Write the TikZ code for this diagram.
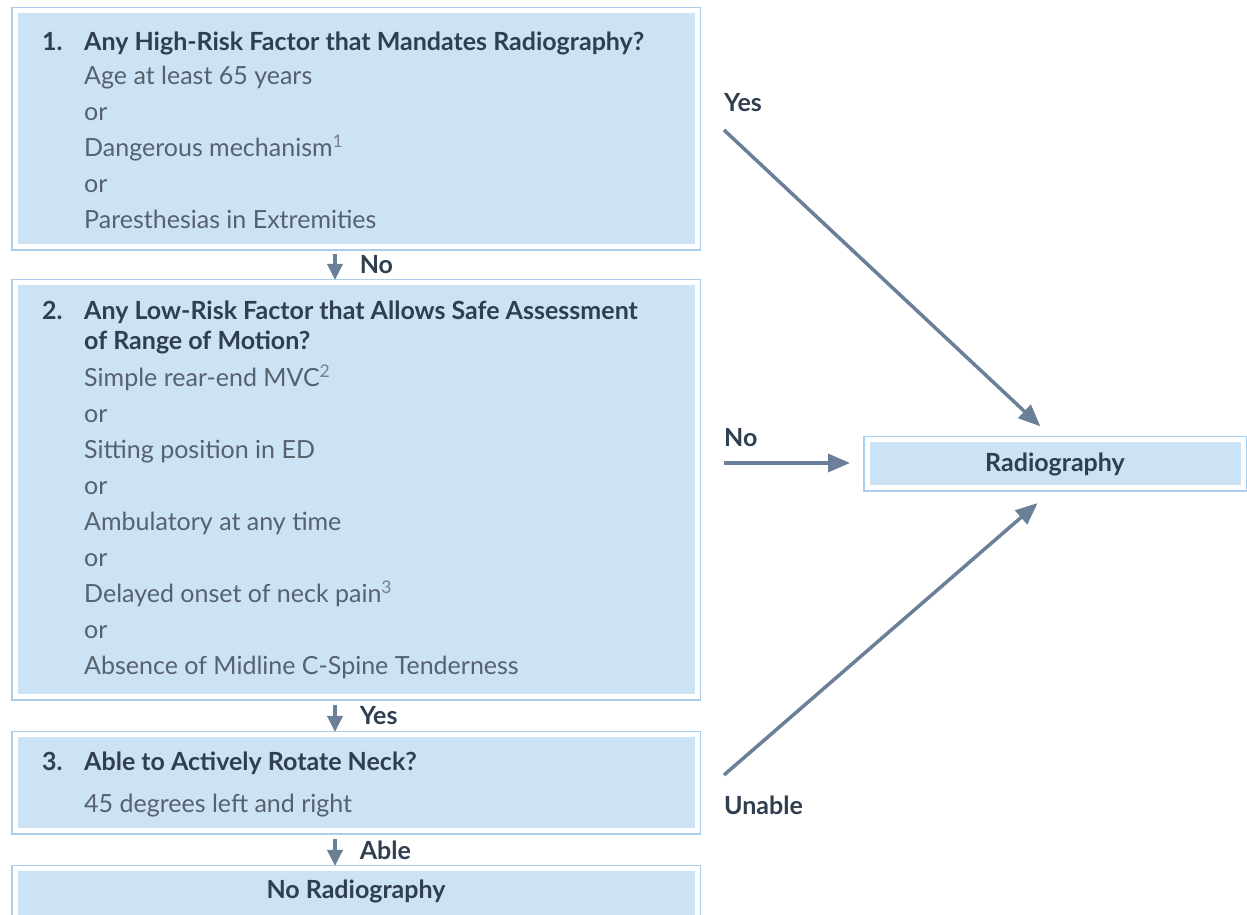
\documentclass[tikz,border=0pt]{standalone}
\usepackage{xcolor}
\usepackage{fontspec}
\setmainfont{Lato}
\usetikzlibrary{arrows.meta, positioning}

\definecolor{boxfill}{HTML}{CCE2F5}
\definecolor{boxedge}{HTML}{A9CEEE}
\definecolor{flowgrey}{HTML}{6B7F99}
\definecolor{headink}{HTML}{2F3F4F}
\definecolor{itemink}{HTML}{56626D}

\newcommand{\sz}{\fontsize{25}{36}\selectfont}
\newcommand{\hd}[1]{\textbf{\color{headink}#1}}
\newcommand{\fnote}[1]{\textsuperscript{\color{itemink!80}#1}}

\begin{document}
\begin{tikzpicture}[
    x=1pt, y=1pt,
    panel/.style={rectangle, fill=boxfill, draw=white, line width=5pt, preaction={draw=boxedge, line width=8pt}, minimum width=682pt, inner sep=0pt, outer sep=0pt},
    steps/.style={anchor=base west, inner sep=0pt, font=\sz, text=itemink},
    lab/.style={font=\sz\bfseries, text=headink, inner sep=0pt},
    down/.style={draw=flowgrey, line width=3.5pt, -{Triangle[length=16pt, width=15pt]}},
    side/.style={draw=flowgrey, line width=3.5pt, -{Triangle[length=22pt, width=18pt]}}
]
\useasboundingbox (0,0) rectangle (1247,915);

% Question panels
\node[panel, minimum height=236pt] (q1) at (356,786) {};
\node[panel, minimum height=414pt] (q2) at (356,425) {};
\node[panel, minimum height=96pt] (q3) at (356,132) {};
\node[panel, minimum height=60pt] (q4) at (356,16) {};

% Outcome on the right
\node[panel, minimum width=376pt, minimum height=48pt, font=\sz\bfseries, text=headink] (xray) at (1055,451) {Radiography};

% Panel texts
\node[steps] (q1text) at ([shift={(27,-39.5)}]q1.north west) {%
\begin{tabular}[t]{@{}p{42pt}@{}l@{}}
\hd{1.} & \hd{Any High-Risk Factor that Mandates Radiography?}\\[-2pt]
 & Age at least 65 years\\
 & or\\
 & Dangerous mechanism\fnote{1}\\
 & or\\
 & Paresthesias in Extremities
\end{tabular}};

\node[steps] (q2text) at ([shift={(27,-36.5)}]q2.north west) {%
\begin{tabular}[t]{@{}p{42pt}@{}l@{}}
\hd{2.} & \hd{Any Low-Risk Factor that Allows Safe Assessment}\\[-6pt]
 & \hd{of Range of Motion?}\\[1pt]
 & Simple rear-end MVC\fnote{2}\\
 & or\\
 & Sitting position in ED\\
 & or\\
 & Ambulatory at any time\\
 & or\\
 & Delayed onset of neck pain\fnote{3}\\
 & or\\
 & Absence of Midline C-Spine Tenderness
\end{tabular}};

\node[steps] (q3text) at ([shift={(27,-35.5)}]q3.north west) {%
\begin{tabular}[t]{@{}p{42pt}@{}l@{}}
\hd{3.} & \hd{Able to Actively Rotate Neck?}\\[6pt]
 & 45 degrees left and right
\end{tabular}};

\node[lab, anchor=base] (q4text) at ([yshift=0.5pt]q4.center) {No Radiography};

% Downward answers
\draw[down, shorten <=7pt, shorten >=3pt] ([xshift=-21pt]q1.south) -- node[lab, right=23pt] (ans1) {No} ([xshift=-21pt]q2.north);
\draw[down, shorten <=8pt, shorten >=3pt] ([xshift=-21pt]q2.south) -- node[lab, right=23pt] (ans2) {Yes} ([xshift=-21pt]q3.north);
\draw[down, shorten <=8pt, shorten >=3pt] ([xshift=-21pt]q3.south) -- node[lab, right=23pt] (ans3) {Able} ([xshift=-21pt]q4.north);

% Answers leading to radiography
\node[lab, anchor=base west] (yeslab) at (724,803.5) {Yes};
\node[lab, anchor=base west] (nolab) at (724,468.5) {No};
\node[lab, anchor=base west] (unlab) at (724,100.5) {Unable};
\coordinate (yesfrom) at (724,785);
\coordinate (nofrom) at (724,452);
\coordinate (unfrom) at (724,140);

\draw[side, shorten >=20pt] (yesfrom) -- (xray.north);
\draw[side, shorten >=17pt] (nofrom) -- (nofrom -| xray.west);
\draw[side, shorten >=23pt] (unfrom) -- (xray.south);

\end{tikzpicture}
\end{document}
